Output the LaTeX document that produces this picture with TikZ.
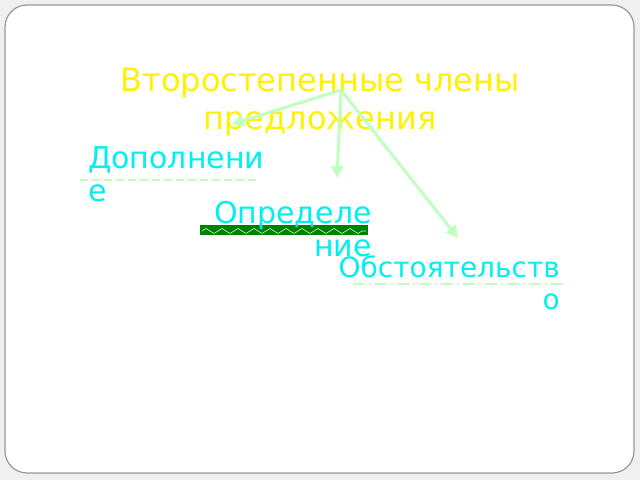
\documentclass[tikz,border=0pt]{standalone}
\usepackage{fontspec}
\setmainfont{DejaVu Sans}
\usetikzlibrary{arrows.meta, decorations.pathmorphing}
\definecolor{lightgreen}{HTML}{C0FFC0}
\definecolor{bargreen}{HTML}{008000}
\definecolor{termcyan}{HTML}{00F0F0}

\begin{document}
\begin{tikzpicture}[x=1pt, y=-1pt,
    title/.style={text=yellow, font=\fontsize{32}{38}\selectfont, align=center, inner sep=0pt},
    term/.style={text=termcyan, font=\fontsize{30}{33}\selectfont, inner sep=0pt},
    branch/.style={draw=lightgreen, line width=3pt, -{Triangle[length=12pt, width=12pt]}},
]
\useasboundingbox (0,0) rectangle (640,480);
\fill[gray!12] (0,0) rectangle (640,480);
\draw[gray!80, fill=white, line width=1.2pt, rounded corners=22pt] (5,5) rectangle (634,473);

% bar under the second term
\fill[bargreen] (200,225) rectangle (368,235);
\draw[lightgreen, line width=0.6pt, decorate, decoration={zigzag, segment length=16pt, amplitude=2.5pt}] (202,231) -- (366,231);

\node[title, anchor=north] (title) at (320,68) {Второстепенные члены\\предложения};
\node[term, anchor=north west, align=left] (dop) at (88,146) {Дополнени\\е};
\node[term, anchor=north east, align=right] (opr) at (372,201) {Определе\\ние};
\node[term, anchor=north east, align=right, font=\fontsize{28}{32}\selectfont] (obst) at (560,256) {Обстоятельств\\о};

\draw[lightgreen, line width=1.5pt, dash pattern=on 8pt off 4pt] (80,180) -- (257,180);
\draw[lightgreen, line width=1.5pt, dash pattern=on 12pt off 4pt on 2pt off 4pt] (353,284) -- (565,284);

\coordinate (hub) at (341,90);
\coordinate (dopTip) at (232,124);
\coordinate (oprTip) at (337,178);
\coordinate (obstTip) at (458,238);
\draw[branch] (hub) -- (dopTip);
\draw[branch] (hub) -- (oprTip);
\draw[branch] (hub) -- (obstTip);
\end{tikzpicture}
\end{document}
